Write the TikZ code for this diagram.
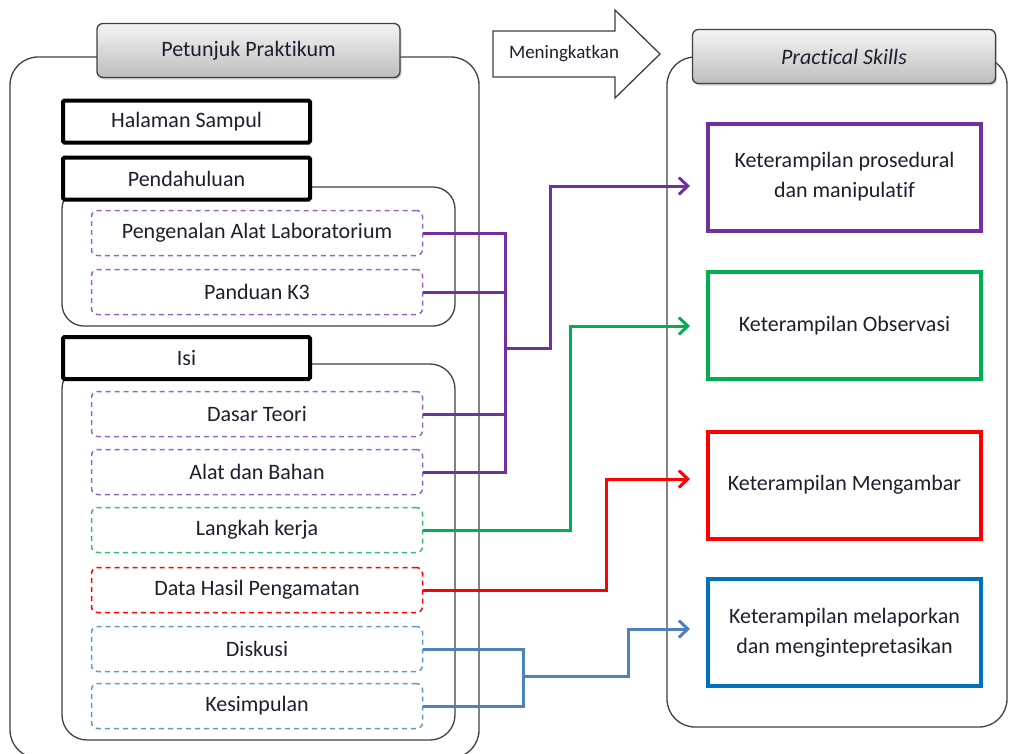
\documentclass[tikz,border=0pt]{standalone}
\usepackage{fontspec}
\setmainfont{Carlito}[Ligatures=NoCommon]
\usetikzlibrary{arrows.meta,positioning,shadows}
\definecolor{ink}{HTML}{1E1E2E}
\definecolor{frame}{HTML}{404040}
\definecolor{violet1}{HTML}{7030A0}
\definecolor{violet2}{HTML}{9566C6}
\definecolor{green1}{HTML}{00B050}
\definecolor{green2}{HTML}{2EC06C}
\definecolor{red1}{HTML}{FF0000}
\definecolor{blue1}{HTML}{4F81BD}
\definecolor{blue2}{HTML}{5B9BD5}
\definecolor{blue3}{HTML}{0070C0}

\begin{document}
\begin{tikzpicture}[x=1pt, y=-1pt,
    every node/.style={font=\fontsize{22}{30}\selectfont, text=ink},
    container/.style={draw=frame, line width=1.3pt, rounded corners=28pt, inner sep=0pt},
    header/.style={draw=frame, line width=1.3pt, rounded corners=6pt, top color=black!4, bottom color=black!26, minimum width=303pt, minimum height=54pt, drop shadow={shadow xshift=1.5pt, shadow yshift=-2pt, opacity=0.35}},
    section/.style={draw=black, line width=4pt, fill=white, rounded corners=1.5pt, minimum width=247pt, minimum height=42pt},
    item/.style={dash pattern=on 5pt off 4pt, line width=1.5pt, rounded corners=6pt, minimum width=331pt, minimum height=45pt},
    skill/.style={line width=4pt, minimum width=273pt, minimum height=107pt, align=center},
    link/.style={line width=3pt},
    tip/.style={-{Straight Barb[length=9pt, width=17pt]}, shorten >=16pt},
]
\useasboundingbox (0,0) rectangle (1009,753);

% frames
\node[container, minimum width=469pt, minimum height=701pt] (petBox) at (244.5,407.5) {};
\node[container, minimum width=393pt, minimum height=139pt, rounded corners=22pt] (pendBox) at (258.5,256.5) {};
\node[container, minimum width=393pt, minimum height=376pt, rounded corners=25pt] (isiBox) at (258.5,552) {};
\node[container, minimum width=340pt, minimum height=670pt] (skillBox) at (837,392) {};

\node[header] (petunjuk) at (248.5,50.5) {Petunjuk Praktikum};
\node[header] (practical) at (844,56.5) {\itshape Practical Skills};

% big arrow
\draw[frame, line width=1.3pt, fill=white] (493,31) -- (615,31) -- (615,10) -- (660,54) -- (615,98) -- (615,77) -- (493,77) -- cycle;
\node[font=\fontsize{19}{22}\selectfont] (meningkatkan) at (564,54) {Meningkatkan};

% left side
\node[section] (halaman) at (186.5,121.5) {Halaman Sampul};
\node[section, below=11pt of halaman] (pendahuluan) {Pendahuluan};
\node[section] (isi) at (186.5,358) {Isi};

\foreach \n/\y/\c/\t in {pengenalan/233/violet2/Pengenalan Alat Laboratorium, panduan/292/violet2/Panduan K3,
    dasar/414/violet2/Dasar Teori, alat/472/violet2/Alat dan Bahan, langkah/530/green2/Langkah kerja,
    data/590/red1/Data Hasil Pengamatan, diskusi/649/blue2/Diskusi, kesimpulan/706/blue2/Kesimpulan}
    \node[item, draw=\c] (\n) at (257,\y) {\t};

% right side
\node[skill, draw=violet1] (prosedural) at (844.5,177) {Keterampilan prosedural\\dan manipulatif};
\node[skill, draw=green1] (observasi) at (844.5,325.5) {Keterampilan Observasi};
\node[skill, draw=red1] (mengambar) at (844.5,485) {Keterampilan Mengambar};
\node[skill, draw=blue3] (melaporkan) at (844.5,632.5) {Keterampilan melaporkan\\dan mengintepretasikan};

% connectors
\coordinate (jP) at (505,348);
\coordinate (bP) at (550,186);
\coordinate (bG) at (570,326);
\coordinate (bR) at (606,479);
\coordinate (jB) at (523,676);
\coordinate (bB) at (628,629);

\draw[link, violet1] (pengenalan.east) -| (jP) |- (panduan.east);
\draw[link, violet1] (dasar.east) -| (jP) |- (alat.east);
\draw[link, violet1, tip] (jP) -| (bP) -- (bP -| prosedural.west);
\draw[link, green1, tip] (langkah.east) -| (bG) -- (bG -| observasi.west);
\draw[link, red1, tip] (data.east) -| (bR) -- (bR -| mengambar.west);
\draw[link, blue1] (diskusi.east) -| (jB) |- (kesimpulan.east);
\draw[link, blue1, tip] (jB) -| (bB) -- (bB -| melaporkan.west);

\end{tikzpicture}
\end{document}
